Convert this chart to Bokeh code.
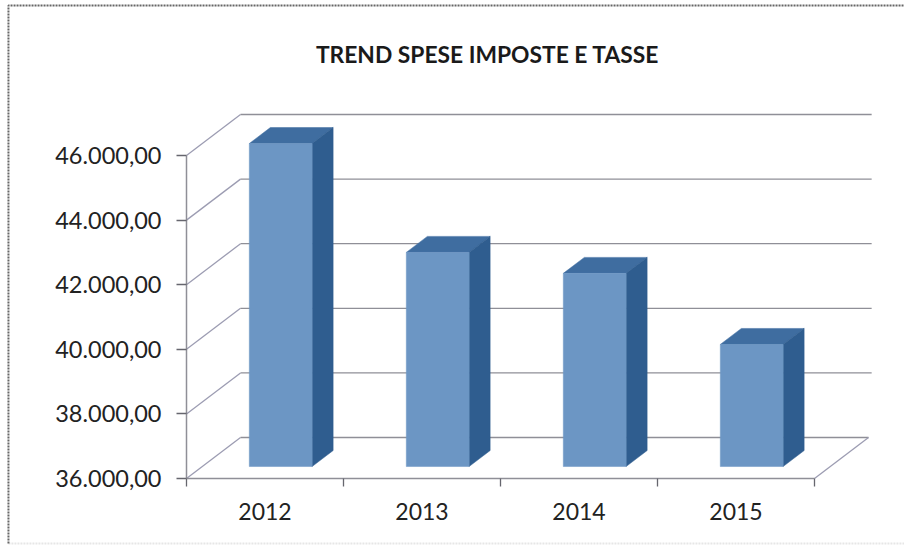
from bokeh.embed import file_html
from bokeh.resources import INLINE
from bokeh.plotting import figure
from bokeh.models import Range1d, FixedTicker, Label

years = ["2012", "2013", "2014", "2015"]
values = [46000, 42630, 41980, 39780]
y_ticks = [36000, 38000, 40000, 42000, 44000, 46000]
y_labels = ["36.000,00", "38.000,00", "40.000,00", "42.000,00", "44.000,00", "46.000,00"]
title_text = "TREND SPESE IMPOSTE E TASSE"

# 3D projection of the Excel-like chart, in data units
WALL_DX, WALL_DY = 0.344, 1269
BAR_DX, BAR_DY = 0.134, 495
BAR_LEFT, BAR_W = 0.40, 0.40
BAR_LIFT = 371  # the front face of a bar sits this far behind the axis plane
Y0 = 36000
GRID = "#8f8f97"
DIAG = "#9c9cb2"
FRONT, SIDE, TOP = "#6c96c4", "#2f5d8f", "#3f6da0"
FONT = "Lato"
TXT = "#222222"
X_MIN, X_MAX = -1.1847, 3.5732 + 1
Y_MIN, Y_MAX = 33895, 50799
FRAME_X, FRAME_Y = -1.134, 50644
BAND_Y = 33990

p = figure(width=904, height=546, output_backend="svg", toolbar_location=None,
           x_range=Range1d(X_MIN, X_MAX), y_range=Range1d(Y_MIN, Y_MAX),
           min_border=0, background_fill_color="white", border_fill_color="white")
p.outline_line_color = None
p.grid.visible = False

n = len(years)
# chart frame: top and left edges show in the reference, the bottom one only faintly
p.line([FRAME_X, X_MAX], [BAND_Y, BAND_Y], line_color="#e6e6e6", line_width=2, line_dash="2 1")
p.line([FRAME_X, FRAME_X, X_MAX], [BAND_Y, FRAME_Y, FRAME_Y], line_color="#666666",
       line_width=2, line_dash="2 1")

# walls: gridlines
for t in y_ticks:
    p.line([0, WALL_DX], [t, t + WALL_DY], line_color=DIAG, line_width=1.3)
    end = n + WALL_DX + (0 if t == Y0 else 0.02)
    p.line([WALL_DX, end], [t + WALL_DY, t + WALL_DY], line_color=GRID, line_width=1.3)
p.line([n, n + WALL_DX], [Y0, Y0 + WALL_DY], line_color=DIAG, line_width=1.3)

# bars
lefts = [i + BAR_LEFT for i in range(n)]
rights = [l + BAR_W for l in lefts]
bottom = Y0 + BAR_LIFT
tops = [v + BAR_LIFT for v in values]
p.patches([[l, r, r + BAR_DX, l + BAR_DX] for l, r in zip(lefts, rights)],
          [[v, v, v + BAR_DY, v + BAR_DY] for v in tops],
          fill_color=TOP, line_color=TOP, line_width=0.5)
p.patches([[r, r + BAR_DX, r + BAR_DX, r] for r in rights],
          [[bottom, bottom + BAR_DY, v + BAR_DY, v] for v in tops],
          fill_color=SIDE, line_color=SIDE, line_width=0.5)
p.quad(left=lefts, right=rights, bottom=[bottom] * n, top=tops,
       fill_color=FRONT, line_color=FRONT, line_width=0.5)

# axes
xa = p.xaxis[0]
xa.fixed_location = Y0
xa.ticker = FixedTicker(ticks=[i + 0.5 for i in range(n)], minor_ticks=list(range(n + 1)))
xa.major_label_overrides = {i + 0.5: y for i, y in enumerate(years)}
xa.bounds = (0, n)
xa.major_tick_line_color = None
xa.major_tick_out = 0
xa.major_tick_in = 0
xa.minor_tick_out = 8
xa.minor_tick_in = 0
xa.minor_tick_line_color = "#66666e"
xa.minor_tick_line_width = 1.3
xa.axis_line_color = GRID
xa.axis_line_width = 1.5
xa.major_label_standoff = 16
xa.major_label_text_font = FONT
xa.major_label_text_font_size = "23px"
xa.major_label_text_color = TXT

ya = p.yaxis[0]
ya.fixed_location = 0
ya.ticker = FixedTicker(ticks=y_ticks)
ya.major_label_overrides = dict(zip(y_ticks, y_labels))
ya.bounds = (Y0, y_ticks[-1])
ya.major_tick_out = 10
ya.major_tick_in = 0
ya.minor_tick_line_color = None
ya.major_tick_line_color = "#66666e"
ya.major_tick_line_width = 1.3
ya.axis_line_color = GRID
ya.axis_line_width = 1.5
ya.major_label_standoff = 15
ya.major_label_text_font = FONT
ya.major_label_text_font_size = "23.5px"
ya.major_label_text_color = TXT

p.add_layout(Label(x=1.917, y=49158, text=title_text, text_align="center",
                   text_baseline="middle", text_font=FONT, text_font_style="bold",
                   text_font_size="22.8px", text_color="#1a1a1a"))

open("out.html", "w").write(file_html(p, INLINE))
